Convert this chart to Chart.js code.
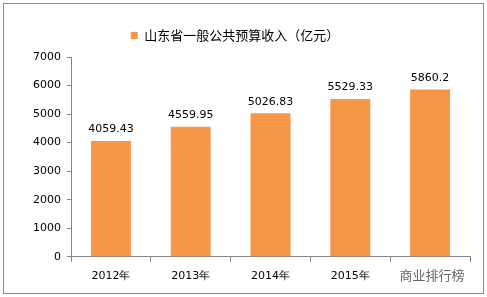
<!DOCTYPE html>
<html>
<head>
<meta charset="utf-8">
<script src="https://cdn.jsdelivr.net/npm/chart.js@4/dist/chart.umd.min.js"></script>
<style>
  body { margin: 0; background: #fff; }
  #wrap { position: relative; width: 487px; height: 297px; }
  #frame { position: absolute; left: 3px; top: 3px; width: 479px; height: 289px; border: 1px solid #8c8c8c; box-sizing: content-box; pointer-events: none; }
  #mark { position: absolute; left: 392px; top: 266px; width: 80px; height: 18px; background: #fff; color: #666; font: 13px "Noto Sans CJK SC", sans-serif; line-height: 18px; text-align: center; }
</style>
</head>
<body>
<div id="wrap">
  <canvas id="c" width="487" height="297"></canvas>
  <div id="frame"></div>
  <div id="mark">商业排行榜</div>
</div>
<script>
// カテゴリと値
const years = ['2012年', '2013年', '2014年', '2015年', '2016年'];
const revenue = [4059.43, 4559.95, 5026.83, 5529.33, 5860.2];
const revenueLabels = ['4059.43', '4559.95', '5026.83', '5529.33', '5860.2'];
const seriesName = '山东省一般公共预算收入（亿元）';

const font = '"Noto Sans CJK SC", "DejaVu Sans", sans-serif';

// 棒の上に数値を描く
const barLabels = {
    id: 'barLabels',
    afterDatasetsDraw(chart) {
        const ctx = chart.ctx;
        const meta = chart.getDatasetMeta(0);
        ctx.save();
        ctx.fillStyle = '#000';
        ctx.font = '11px "DejaVu Sans", sans-serif';
        ctx.textAlign = 'center';
        ctx.textBaseline = 'bottom';
        meta.data.forEach((bar, i) => {
            ctx.fillText(revenueLabels[i], bar.x, bar.y - 6);
        });
        ctx.restore();
    }
};

// 凡例の下に少し余白を足す
const legendGap = {
    id: 'legendGap',
    afterInit(chart) {
        const lg = chart.legend;
        const fit = lg.fit.bind(lg);
        lg.fit = function() { fit(); this.height += 5; };
    }
};

new Chart(document.getElementById('c'), {
    type: 'bar',
    data: {
        labels: years,
        datasets: [{
            label: seriesName,
            data: revenue,
            backgroundColor: '#F79646',
            barPercentage: 0.5,
            categoryPercentage: 1.0
        }]
    },
    options: {
        responsive: false,
        animation: false,
        layout: { padding: { left: 0, right: 17, top: 14, bottom: 6 } },
        plugins: {
            tooltip: { enabled: false },
            legend: {
                display: true,
                labels: {
                    boxWidth: 7, boxHeight: 7,
                    color: '#000',
                    font: { family: font, size: 13 },
                    padding: 15
                }
            }
        },
        scales: {
            x: {
                offset: true,
                grid: { display: true, offset: true, drawOnChartArea: false, tickLength: 5, color: '#868686' },
                border: { color: '#868686' },
                ticks: { color: '#000', font: { family: '"DejaVu Sans", sans-serif', size: 11 }, padding: 8 }
            },
            y: {
                min: 0, max: 7000,
                afterFit(scale) { scale.width = 71; },
                grid: { display: true, drawOnChartArea: false, tickLength: 4, color: '#868686' },
                border: { color: '#868686' },
                ticks: {
                    stepSize: 1000, color: '#000',
                    font: { family: '"DejaVu Sans", sans-serif', size: 11 }, padding: 6,
                    callback: v => String(v)
                }
            }
        }
    },
    plugins: [barLabels, legendGap]
});
</script>
</body>
</html>
